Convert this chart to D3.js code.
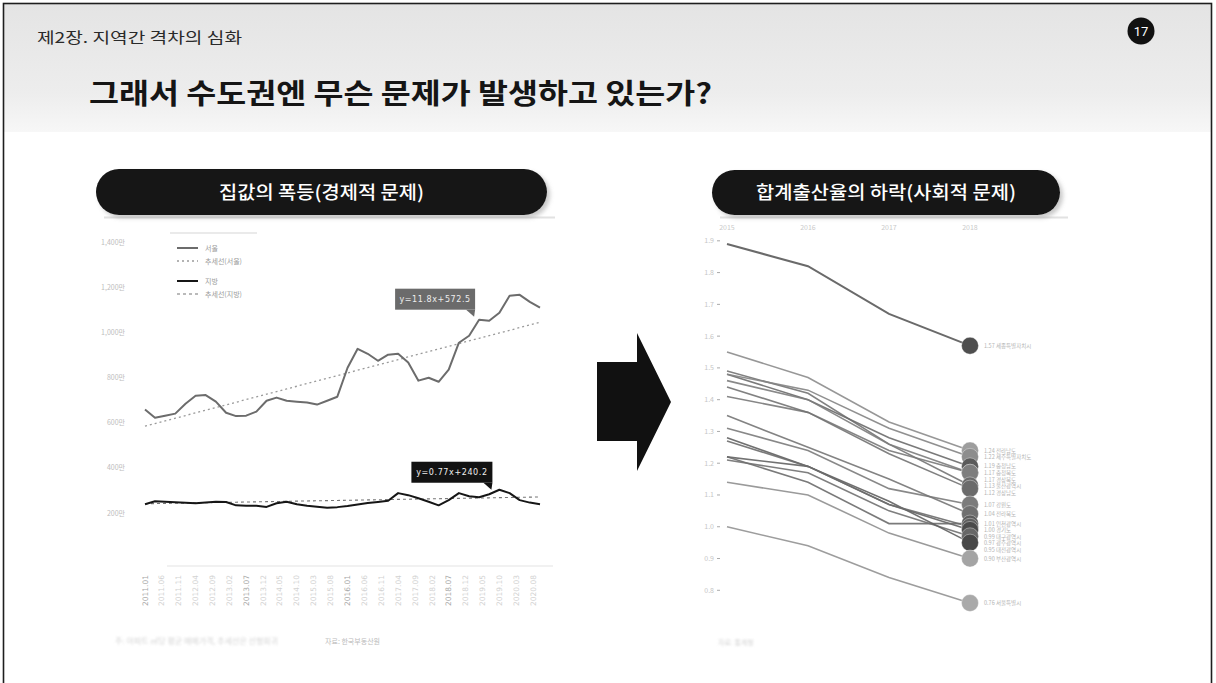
<!DOCTYPE html>
<html><head><meta charset="utf-8">
<script src="https://cdn.jsdelivr.net/npm/d3@7"></script>
<style>
html,body{margin:0;padding:0;background:#fff;}
svg{display:block;font-family:"Noto Sans CJK KR","Noto Sans",sans-serif;}
</style></head><body>
<svg id="c" width="1216" height="683"></svg>
<script>
// ---- 집값: 서울 / 지방 ㎡당 평균 매매가격 (분기, 만원) ----
const priceSeoul = [658,622,631,640,684,719,722,693,644,629,
                    631,649,697,711,697,693,689,680,697,715,
                    843,927,905,874,901,905,866,786,799,781,
                    835,954,985,1056,1051,1087,1162,1166,1135,1109];
const priceLocal = [239,252,250,248,245,243,247,250,249,234,
                    232,232,227,243,250,239,232,228,223,226,
                    231,238,244,249,254,288,279,265,250,234,
                    257,288,274,270,283,303,288,257,246,239];
const trendSeoul = [11.8, 572.5];   // 기울기, 절편
const trendLocal = [0.77, 240.2];
const priceYTicks = [200,400,600,800,1000,1200,1400];
const priceXTicks = ["2011.01","2011.06","2011.11","2012.04","2012.09","2013.02","2013.07","2013.12",
                     "2014.05","2014.10","2015.03","2015.08","2016.01","2016.06","2016.11","2017.04",
                     "2017.09","2018.02","2018.07","2018.12","2019.05","2019.10","2020.03","2020.08"];
const legendNames = ["서울","추세선(서울)","지방","추세선(지방)"];

// ---- 합계출산율: 시도별 2015~2018 ----
const tfrYears = ["2015","2016","2017","2018"];
const regionNames = ["서울","부산","대구","인천","광주","대전","울산","세종","경기",
                     "강원","충북","충남","전북","전남","경북","경남","제주"];
const regionFull = ["서울특별시","부산광역시","대구광역시","인천광역시","광주광역시","대전광역시",
                    "울산광역시","세종특별자치시","경기도","강원도","충청북도","충청남도",
                    "전라북도","전라남도","경상북도","경상남도","제주특별자치도"];
const tfr2015 = [1.00,1.14,1.22,1.22,1.21,1.28,1.49,1.89,1.27,1.31,1.41,1.48,1.35,1.55,1.46,1.44,1.48];
const tfr2016 = [0.94,1.10,1.19,1.14,1.17,1.19,1.42,1.82,1.19,1.24,1.36,1.40,1.25,1.47,1.40,1.36,1.43];
const tfr2017 = [0.84,0.98,1.07,1.01,1.05,1.08,1.26,1.67,1.07,1.12,1.24,1.28,1.15,1.33,1.26,1.23,1.31];
const tfr2018 = [0.76,0.90,0.99,1.01,0.97,0.95,1.13,1.57,1.00,1.07,1.17,1.19,1.04,1.24,1.17,1.12,1.22];
const tfrYTicks = [0.8,0.9,1.0,1.1,1.2,1.3,1.4,1.5,1.6,1.7,1.8,1.9];

const svg = d3.select("#c");
const defs = svg.append("defs");

// 헤더 배경
const hg = defs.append("linearGradient").attr("id","hdr").attr("x1",0).attr("y1",0).attr("x2",0).attr("y2",1);
hg.append("stop").attr("offset","0%").attr("stop-color","#e4e4e4");
hg.append("stop").attr("offset","70%").attr("stop-color","#ededed");
hg.append("stop").attr("offset","100%").attr("stop-color","#f7f7f7");
const sh = defs.append("filter").attr("id","pillShadow").attr("x","-5%").attr("y","-20%").attr("width","115%").attr("height","160%");
sh.append("feDropShadow").attr("dx",3).attr("dy",3).attr("stdDeviation",2).attr("flood-color","#888").attr("flood-opacity",0.45);
const soft = defs.append("filter").attr("id","soft");
soft.append("feGaussianBlur").attr("stdDeviation",0.9);

svg.append("rect").attr("width",1216).attr("height",683).attr("fill","#fff");
svg.append("rect").attr("x",4).attr("y",4).attr("width",1207).attr("height",128).attr("fill","url(#hdr)");
svg.append("rect").attr("x",3.5).attr("y",3.5).attr("width",1208).attr("height",690)
  .attr("fill","none").attr("stroke","#1e1e1e").attr("stroke-width",1.6);

// 헤더 텍스트
svg.append("text").attr("x",37).attr("y",43).attr("font-size",15).attr("fill","#2a2a2a")
  .attr("textLength",205).attr("lengthAdjust","spacingAndGlyphs").text("제2장. 지역간 격차의 심화");
svg.append("text").attr("x",89).attr("y",104).attr("font-size",28).attr("font-weight",700).attr("fill","#151515")
  .attr("textLength",623).attr("lengthAdjust","spacingAndGlyphs").text("그래서 수도권엔 무슨 문제가 발생하고 있는가?");
svg.append("circle").attr("cx",1141).attr("cy",31).attr("r",13.5).attr("fill","#111");
svg.append("text").attr("x",1141).attr("y",36).attr("text-anchor","middle").attr("font-size",13)
  .attr("font-family","Roboto, sans-serif").attr("fill","#fff").text("17");

// 소제목 알약
function pill(x0, x1, y0, y1, label, tw) {
  const g = svg.append("g");
  g.append("line").attr("x1",x0+8).attr("x2",x1+8).attr("y1",y1+2.5).attr("y2",y1+2.5)
    .attr("stroke","#e2e2e2").attr("stroke-width",2);
  g.append("rect").attr("x",x0).attr("y",y0).attr("width",x1-x0).attr("height",y1-y0)
    .attr("rx",(y1-y0)/2).attr("fill","#161616").attr("filter","url(#pillShadow)");
  g.append("text").attr("x",(x0+x1)/2).attr("y",(y0+y1)/2+6.5).attr("text-anchor","middle")
    .attr("font-size",18).attr("font-weight",500).attr("fill","#fff")
    .attr("textLength",tw).attr("lengthAdjust","spacingAndGlyphs").text(label);
}
pill(96, 547, 169, 215, "집값의 폭등(경제적 문제)", 205);
pill(712, 1060, 170, 215, "합계출산율의 하락(사회적 문제)", 260);

// 가운데 화살표
svg.append("path").attr("fill","#111")
  .attr("d","M597,362 L637,362 L637,333 L671,402 L637,471 L637,441 L597,441 Z");

// ================= 왼쪽: 집값 =================
const parseM = d3.timeParse("%Y.%m");
const qDates = d3.timeMonth.every(3).range(new Date(2011,0,1), new Date(2021,0,1));
const xL = d3.scaleTime().domain([qDates[0], qDates[qDates.length-1]]).range([145,540]);
const yL = d3.scaleLinear().domain([200,1400]).range([513,242]);

const left = svg.append("g");
// y축 라벨
left.selectAll("text.yt").data(priceYTicks).join("text").attr("class","yt")
  .attr("x",125).attr("y",d=>yL(d)+2.5).attr("text-anchor","end")
  .attr("font-size",7).attr("fill","#bdbdbd").text(d=>d3.format(",")(d)+"만");

// x축
left.append("line").attr("x1",167).attr("x2",553).attr("y1",566).attr("y2",566)
  .attr("stroke","#e3e3e3").attr("stroke-width",1);
left.selectAll("text.xt").data(priceXTicks).join("text").attr("class","xt")
  .attr("transform",d=>`translate(${xL(parseM(d))+2.5},606) rotate(-90)`)
  .attr("font-size",7.5).attr("font-family","DejaVu Sans, sans-serif")
  .attr("fill",(d,i)=>i%6===0?"#a8a8a8":"#d2d2d2").text(d=>d);

// 추세선
const lineGen = d3.line().x(d=>xL(d[0])).y(d=>yL(d[1]));
const trendPts = c => qDates.map((d,i)=>[d, c[0]*(i+1)+c[1]]);
left.append("path").attr("d",lineGen(trendPts(trendSeoul))).attr("fill","none")
  .attr("stroke","#9a9a9a").attr("stroke-width",1.3).attr("stroke-dasharray","2,3");
left.append("path").attr("d",lineGen(trendPts(trendLocal))).attr("fill","none")
  .attr("stroke","#777").attr("stroke-width",1.1).attr("stroke-dasharray","3,3");

// 실제 가격선
left.append("path").attr("d",lineGen(qDates.map((d,i)=>[d,priceSeoul[i]]))).attr("fill","none")
  .attr("stroke","#6c6c6c").attr("stroke-width",2).attr("stroke-linejoin","round");
left.append("path").attr("d",lineGen(qDates.map((d,i)=>[d,priceLocal[i]]))).attr("fill","none")
  .attr("stroke","#161616").attr("stroke-width",2).attr("stroke-linejoin","round");

// 범례
const lg = left.append("g");
lg.append("line").attr("x1",170).attr("x2",257).attr("y1",233).attr("y2",233).attr("stroke","#d5d5d5");
const lgStyle = [
  {y:248, c:"#6c6c6c", w:2, dash:null},
  {y:261, c:"#9a9a9a", w:1.3, dash:"2,3"},
  {y:281, c:"#161616", w:2, dash:null},
  {y:294, c:"#777", w:1.1, dash:"3,3"}];
legendNames.forEach((n,i)=>{
  const s = lgStyle[i];
  lg.append("line").attr("x1",177).attr("x2",198).attr("y1",s.y).attr("y2",s.y)
    .attr("stroke",s.c).attr("stroke-width",s.w).attr("stroke-dasharray",s.dash);
  lg.append("text").attr("x",205).attr("y",s.y+2.5).attr("font-size",7).attr("fill","#9a9a9a").text(n);
});

// 추세식 말풍선
function callout(idx, series, coef, dx, dy, w, fill) {
  const ax = xL(qDates[idx]), ay = yL(series[idx]);
  const r = ax+dx, b = ay+dy, h = 21;
  const g = left.append("g");
  g.append("rect").attr("x",r-w).attr("y",b-h).attr("width",w).attr("height",h).attr("fill",fill);
  g.append("path").attr("d",`M${r-9},${b} L${r},${b} L${r-1},${b+7} Z`).attr("fill",fill);
  g.append("text").attr("x",r-w/2).attr("y",b-7.5).attr("text-anchor","middle")
    .attr("font-size",8).attr("font-family","DejaVu Sans, sans-serif").attr("letter-spacing",0.6)
    .attr("fill","#eee").text(`y=${coef[0]}x+${coef[1]}`);
}
callout(33, priceSeoul, trendSeoul, -4, -10, 80, "#6b6b6b");
callout(35, priceLocal, trendLocal, -7, -7, 81, "#121212");

// 출처
left.append("text").attr("x",115).attr("y",644).attr("font-size",8).attr("fill","#d4d4d4")
  .attr("filter","url(#soft)").text("주: 아파트 ㎡당 평균 매매가격, 추세선은 선형회귀");
left.append("text").attr("x",325).attr("y",644).attr("font-size",7).attr("fill","#bbbbbb").text("자료: 한국부동산원");

// ================= 오른쪽: 합계출산율 =================
const xR = d3.scalePoint().domain(tfrYears).range([727,970]);
const yR = d3.scaleLinear().domain([0.76,1.89]).range([603,244]);
const right = svg.append("g");

right.selectAll("text.xy").data(tfrYears).join("text").attr("class","xy")
  .attr("x",d=>xR(d)).attr("y",230).attr("text-anchor","middle")
  .attr("font-size",7).attr("fill","#cacaca").text(d=>d);
right.selectAll("text.yy").data(tfrYTicks).join("text").attr("class","yy")
  .attr("x",714).attr("y",d=>yR(d)+2.5).attr("text-anchor","end")
  .attr("font-size",7).attr("fill","#c6c6c6").text(d=>d.toFixed(1));
right.selectAll("line.tk").data(tfrYTicks).join("line").attr("class","tk")
  .attr("x1",717).attr("x2",720).attr("y1",d=>yR(d)).attr("y2",d=>yR(d))
  .attr("stroke","#aaa").attr("stroke-width",1);

const shade = {서울:"#a9a9a9",부산:"#a4a4a4",대구:"#4b4b4b",인천:"#5c5c5c",광주:"#676767",대전:"#484848",
  울산:"#6b6b6b",세종:"#4e4e4e",경기:"#5f5f5f",강원:"#7b7b7b",충북:"#787878",충남:"#5b5b5b",
  전북:"#6f6f6f",전남:"#9d9d9d",경북:"#7e7e7e",경남:"#6b6b6b",제주:"#8d8d8d"};

const regions = regionNames.map((n,i)=>({name:n, full:regionFull[i],
  vals:[tfr2015[i],tfr2016[i],tfr2017[i],tfr2018[i]]}));

// 선 색은 점 색과 중간 회색의 중간값
const lineShade = n => d3.interpolateRgb(shade[n], "#7a7a7a")(0.5);
const rLine = d3.line().x((d,j)=>xR(tfrYears[j])).y(d=>yR(d));
right.selectAll("path.rl").data(regions).join("path").attr("class","rl")
  .attr("d",d=>rLine(d.vals)).attr("fill","none")
  .attr("stroke",d=>d.name==="세종"?"#5a5a5a":lineShade(d.name))
  .attr("stroke-width",d=>d.name==="세종"?2:1.6).attr("stroke-opacity",0.9);

// 끝점: 값이 큰 지역부터 (위에서 아래로)
const byEnd = regions.slice().sort((a,b)=>b.vals[3]-a.vals[3]);
right.selectAll("circle.rd").data(byEnd).join("circle").attr("class","rd")
  .attr("cx",xR("2018")).attr("cy",d=>yR(d.vals[3])).attr("r",8.5)
  .attr("fill",d=>shade[d.name]).attr("stroke","#fff").attr("stroke-width",0.6).attr("stroke-opacity",0.6);

// 끝점 라벨 (겹침 방지, 위에서부터 아래로 밀어냄)
let prev = -Infinity;
const labelPos = byEnd.map(d=>{
  let y = Math.max(yR(d.vals[3]), prev + 6.6);
  prev = y;
  return {d, y};
});
right.selectAll("text.rlab").data(labelPos).join("text").attr("class","rlab")
  .attr("x",984).attr("y",p=>p.y+2).attr("font-size",5.5).attr("fill","#b4b4b4")
  .text(p=>`${p.d.vals[3].toFixed(2)} ${p.d.full}`);

right.append("text").attr("x",718).attr("y",645).attr("font-size",7).attr("fill","#d2d2d2")
  .attr("filter","url(#soft)").text("자료: 통계청");
</script>
</body></html>
